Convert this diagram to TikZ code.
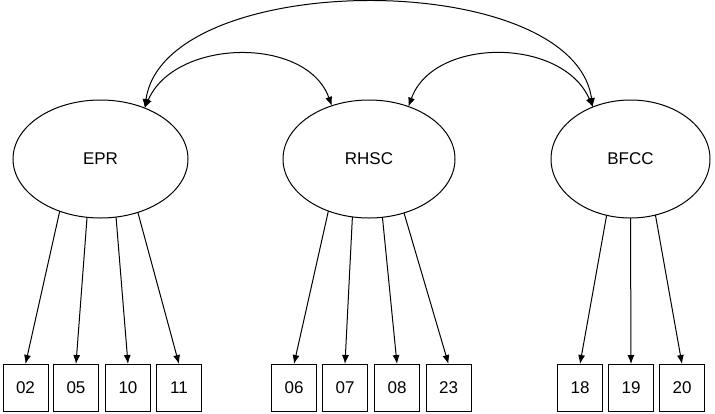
\documentclass[tikz,border=0pt]{standalone}
\usepackage{fontspec}
\setmainfont{Liberation Sans}
\usetikzlibrary{shapes.geometric,arrows.meta}
\begin{document}
\begin{tikzpicture}[x=1pt,y=-1pt,
  lat/.style={ellipse,draw,line width=1pt,inner sep=0pt,outer sep=0pt,minimum height=118pt,font=\fontsize{17}{20}\selectfont},
  obs/.style={rectangle,draw,line width=1pt,inner sep=0pt,outer sep=0pt,minimum width=45pt,minimum height=47pt,font=\fontsize{17}{20}\selectfont},
  load/.style={line width=1pt,-{Latex[length=9pt,width=7pt]}},
  cov/.style={line width=1pt,{Latex[length=9pt,width=7pt]}-{Latex[length=9pt,width=7pt]}}]
\useasboundingbox (0,0) rectangle (715,413);
\node[lat,minimum width=175pt] (EPR) at (100.5,159) {EPR};
\node[lat,minimum width=172pt] (RHSC) at (369,159) {RHSC};
\node[lat,minimum width=159pt] (BFCC) at (630.5,159) {BFCC};
\node[obs] (b02) at (25.5,387.5) {02};
\node[obs] (b05) at (76,387.5) {05};
\node[obs] (b10) at (128,387.5) {10};
\node[obs] (b11) at (179,387.5) {11};
\node[obs] (b06) at (294,387.5) {06};
\node[obs] (b07) at (345,387.5) {07};
\node[obs] (b08) at (397,387.5) {08};
\node[obs] (b23) at (448.5,387.5) {23};
\node[obs] (b18) at (580,387.5) {18};
\node[obs] (b19) at (631,387.5) {19};
\node[obs] (b20) at (682,387.5) {20};
\draw[load] (EPR.232.5) -- (b02.north);
\draw[load] (EPR.257.1) -- (b05.north);
\draw[load] (EPR.285.6) -- (b10.north);
\draw[load] (EPR.305.5) -- (b11.north);
\draw[load] (RHSC.232.1) -- (b06.north);
\draw[load] (RHSC.254.8) -- (b07.north);
\draw[load] (RHSC.283.3) -- (b08.north);
\draw[load] (RHSC.303.2) -- (b23.north);
\draw[load] (BFCC.247.6) -- (b18.north);
\draw[load] (BFCC.270) -- (b19.north);
\draw[load] (BFCC.294.1) -- (b20.north);
\draw[cov] (EPR.49) .. controls +(20,-140) and +(-20,-140) .. (BFCC.126);
\draw[cov] (EPR.49) .. controls +(30,-70) and +(-25,-70) .. (RHSC.125);
\draw[cov] (RHSC.53) .. controls +(25,-70) and +(-30,-70) .. (BFCC.126);
\end{tikzpicture}
\end{document}
